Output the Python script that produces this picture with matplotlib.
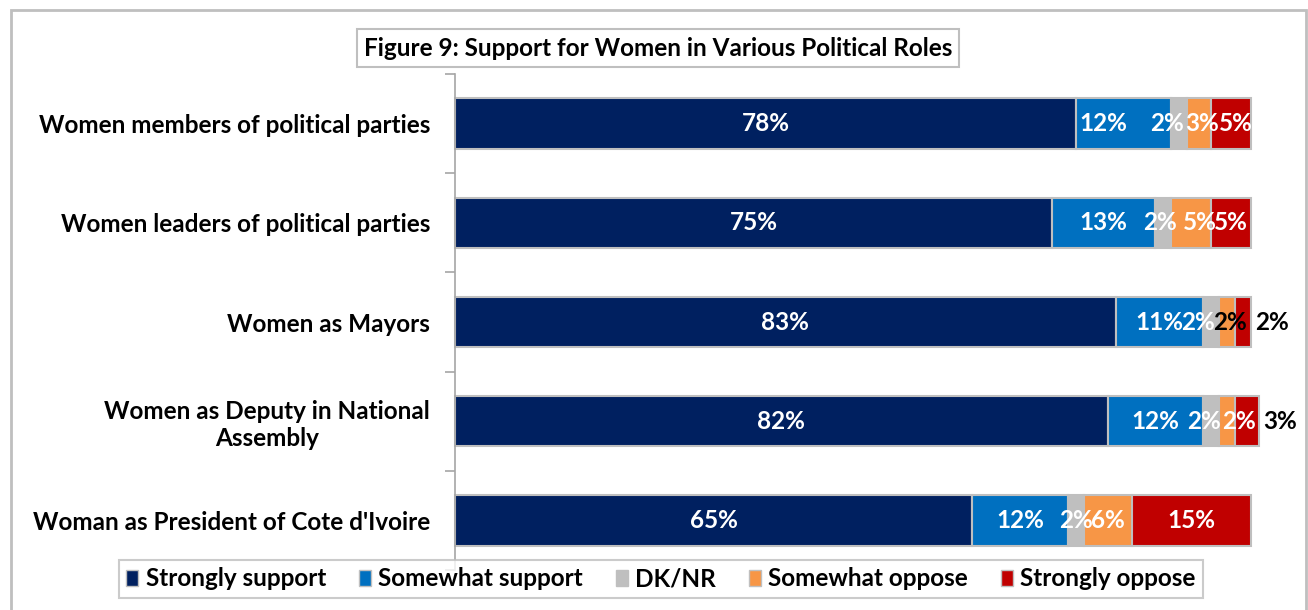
import matplotlib.pyplot as plt
from matplotlib.patches import Rectangle

plt.rcParams['font.family'] = ['Lato', 'DejaVu Sans']
plt.rcParams['font.weight'] = 'bold'

roles = [
    'Women members of political parties',
    'Women leaders of political parties',
    'Women as Mayors',
    'Women as Deputy in National\nAssembly',
    "Woman as President of Cote d'Ivoire",
]
responses = ['Strongly support', 'Somewhat support', 'DK/NR',
             'Somewhat oppose', 'Strongly oppose']
strongly_support = [78, 75, 83, 82, 65]
somewhat_support = [12, 13, 11, 12, 12]
dk_nr = [2, 2, 2, 2, 2]
somewhat_oppose = [3, 5, 2, 2, 6]
strongly_oppose = [5, 5, 2, 3, 15]

colors = ['#002060', '#0070C0', '#BFBFBF', '#F79646', '#C00000']
series = [strongly_support, somewhat_support, dk_nr,
          somewhat_oppose, strongly_oppose]

# label tweaks: which labels sit outside the bar end, which are black,
# and small sideways nudges (in pixels) for crowded ones
outside = {(2, 4), (3, 4)}
black = {(2, 3), (2, 4), (3, 4)}
nudge = {(0, 1): -20, (0, 2): -12, (0, 3): 3, (0, 4): 5,
         (1, 2): -3, (1, 3): 9,
         (2, 2): -13, (2, 3): 3, (3, 2): -7, (3, 3): 12}

FS = 17.5
PX = 100 / 796  # data units per pixel along x

fig = plt.figure(figsize=(13.08, 6.10), dpi=100)
ax = fig.add_axes([455 / 1308, 40 / 610, 796 / 1308, 496 / 610])

# outer chart border
fig.patches.append(Rectangle((11 / 1308, -0.05), 1295 / 1308, 1.05 - 10 / 610,
                             transform=fig.transFigure, fill=False,
                             edgecolor='#BFBFBF', linewidth=2))

ypos = list(range(len(roles)))
left = [0] * len(roles)
for j, (vals, name, col) in enumerate(zip(series, responses, colors)):
    bars = ax.barh(ypos, vals, left=left, height=0.51, color=col,
                   edgecolor='#BFBFBF', linewidth=1.5, label=name,
                   clip_on=False)
    for i, b in enumerate(bars):
        if (i, j) in outside:
            x = left[i] + vals[i] + 2.7
        else:
            x = left[i] + vals[i] / 2
        x += nudge.get((i, j), 0) * PX
        ax.text(x, i, f'{vals[i]}%', ha='center', va='center',
                color='black' if (i, j) in black else 'white',
                fontsize=FS, fontweight='bold', clip_on=False)
    left = [l + v for l, v in zip(left, vals)]

ax.set_xlim(0, 100)
ax.set_ylim(len(roles) - 0.5, -0.5)
ax.set_xticks([])
ax.set_yticks(ypos)
ax.set_yticklabels(roles, fontsize=FS, fontweight='bold',
                   multialignment='center')
ax.tick_params(axis='y', which='major', length=0, pad=18)
ax.set_yticks([y + 0.5 for y in range(-1, len(roles))], minor=True)
ax.tick_params(axis='y', which='minor', length=7, color='#A6A6A6', width=1.2)
for s in ['top', 'right', 'bottom']:
    ax.spines[s].set_visible(False)
ax.spines['left'].set_color('#A6A6A6')
ax.spines['left'].set_linewidth(1.2)

fig.text(658 / 1308, 1 - 48 / 610,
         'Figure 9: Support for Women in Various Political Roles',
         ha='center', va='center', fontsize=FS, fontweight='bold',
         bbox=dict(boxstyle='square,pad=0.3', facecolor='white',
                   edgecolor='#BFBFBF', linewidth=1.5))

leg = fig.legend(loc='center', bbox_to_anchor=(661 / 1308, 1 - 579 / 610),
                 ncol=5, frameon=True, fancybox=False, fontsize=FS,
                 handlelength=0.5, handleheight=0.6, handletextpad=0.3,
                 columnspacing=1.35, borderpad=0.3)
leg.get_frame().set_edgecolor('#BFBFBF')
leg.get_frame().set_linewidth(1.5)
for h in leg.legend_handles:
    h.set_edgecolor('#BFBFBF')
    h.set_linewidth(1)

fig.savefig('out.png', dpi=100)
